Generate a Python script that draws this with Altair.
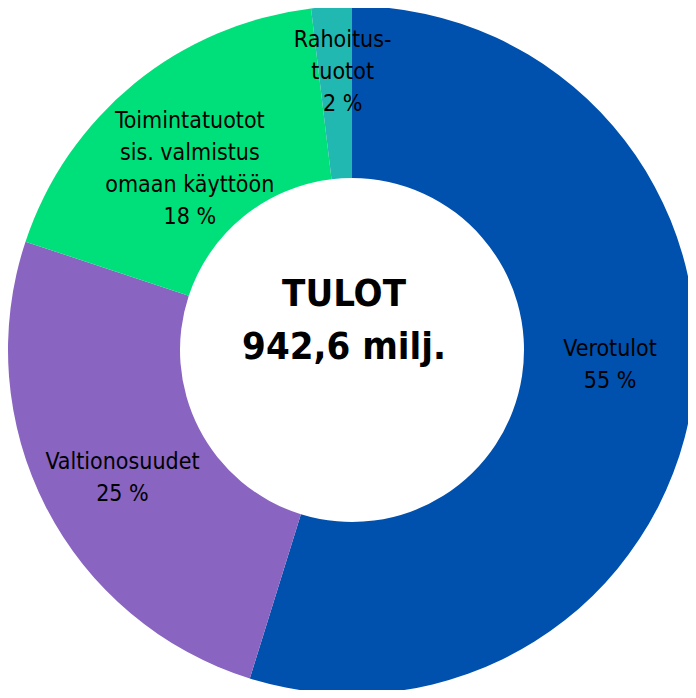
import altair as alt
import pandas as pd

categories = ["Verotulot", "Valtionosuudet", "Toimintatuotot sis. valmistus omaan käyttöön", "Rahoitustuotot"]
values = [54.8, 25.3, 18.0, 1.9]
labels = ["Verotulot\n55 %", "Valtionosuudet\n25 %", "Toimintatuotot\nsis. valmistus\nomaan käyttöön\n18 %", "Rahoitus-\ntuotot\n2 %"]
colors = ["#0050AE", "#8964C0", "#00E07A", "#20B8B0"]
center_text = "TULOT\n942,6 milj."

df = pd.DataFrame({"idx": list(range(len(categories))), "cat": categories, "value": values, "label": labels})

FONT = "DejaVu Sans Condensed, sans-serif"
CX, CY = 344, 342
LH = 32

base = (
    alt.Chart(df)
    .transform_window(cum="sum(value)", sort=[{"field": "idx"}], frame=[None, 0])
    .transform_joinaggregate(total="sum(value)")
    .transform_calculate(
        start="(datum.cum - datum.value) / datum.total",
        end="datum.cum / datum.total",
        mid="(datum.cum - datum.value / 2) / datum.total",
    )
)

theta_scale = alt.Scale(domain=[0, 1])

arcs = base.mark_arc(x=CX, y=CY, radius=344, innerRadius=172, stroke=None).encode(
    theta=alt.Theta("start:Q", scale=theta_scale),
    theta2="end:Q",
    color=alt.Color("cat:N", scale=alt.Scale(domain=categories, range=colors), legend=None),
)

nudges = {
    "Verotulot": (3, -24, 2),
    "Valtionosuudet": (0, 10, 2),
    "Toimintatuotot sis. valmistus omaan käyttöön": (1, 19, 4),
    "Rahoitustuotot": (6, -20, 3),
}

layers = [arcs]
for c in categories:
    dx, dy, n = nudges[c]
    layers.append(
        base.transform_filter(alt.datum.cat == c)
        .mark_text(x=CX, y=CY, radius=258, dx=dx, dy=dy - (n - 1) * LH / 2, font=FONT, fontSize=23,
                   lineBreak="\n", lineHeight=LH, align="center", baseline="middle", color="#000000")
        .encode(theta=alt.Theta("mid:Q", scale=theta_scale), text="label:N")
    )

center = (
    alt.Chart(pd.DataFrame({"t": [center_text]}))
    .mark_text(x=CX, y=CY, font=FONT, fontSize=38, fontWeight="bold", lineBreak="\n", lineHeight=53,
               align="center", baseline="middle", dx=-8, dy=-55, color="#000000")
    .encode(text="t:N")
)
layers.append(center)

chart = alt.layer(*layers).properties(
    width=680, height=682, padding=0, autosize=alt.AutoSizeParams(type="none")
).configure_view(stroke=None)

chart.save("out.html", embed_options={"renderer": "svg", "actions": False})
